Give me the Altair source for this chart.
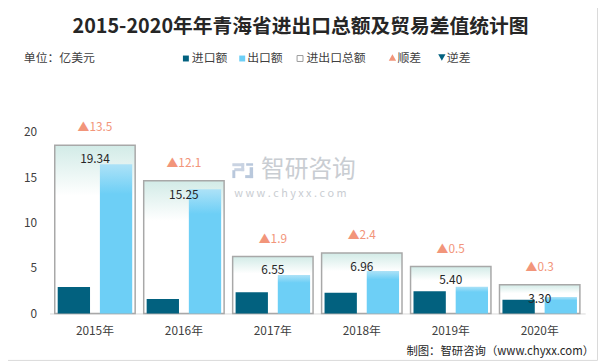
import altair as alt
import pandas as pd

# ---------------- data ----------------
years = ["2015年", "2016年", "2017年", "2018年", "2019年", "2020年"]
imports = [2.92, 1.58, 2.33, 2.28, 2.45, 1.50]
exports = [16.42, 13.67, 4.22, 4.68, 2.95, 1.80]
totals = [19.34, 15.25, 6.55, 6.96, 5.40, 3.30]
diffs = [13.5, 12.1, 1.9, 2.4, 0.5, 0.3]
y_ticks = [0, 5, 10, 15, 20]

title_text = "2015-2020年年青海省进出口总额及贸易差值统计图"
unit_text = "单位：亿美元"
legend_names = ["进口额", "出口额", "进出口总额", "顺差", "逆差"]
footer_text = "制图：智研咨询（www.chyxx.com）"

FONT = "Noto Sans CJK SC"
C_IMP = "#02617f"
C_EXP = "#6dcff6"
C_UP = "#f2957a"

tot_df = pd.DataFrame({"year": years, "total": totals,
                       "diff": ["▲" + f"{d:.1f}" for d in diffs],
                       "tlabel": [f"{t:.2f}" for t in totals]})
imp_df = pd.DataFrame({"year": years, "series": "进口额", "value": imports})
exp_df = pd.DataFrame({"year": years, "series": "出口额", "value": exports})

xscale = alt.Scale(domain=years, paddingInner=0.096, paddingOuter=0.059)
yscale = alt.Scale(domain=[0, 20], nice=False)
y2scale = alt.Scale(domain=[0, 20.9], nice=False)   # secondary axis of the total boxes
xaxis = alt.Axis(title=None, labelAngle=0, ticks=False, domainColor="#d9d9d9",
                 domainWidth=1, labelPadding=12, labelFontSize=12,
                 labelColor="#404040", labelFont=FONT)
yaxis = alt.Axis(title=None, values=y_ticks, grid=False, domain=False, ticks=False,
                 labelPadding=13, labelFontSize=12, labelColor="#404040",
                 labelFont=FONT)
X = alt.X("year:N", scale=xscale, sort=years, axis=xaxis)
Y = alt.Y("value:Q", scale=yscale, axis=yaxis)
Yn = alt.Y("value:Q", scale=yscale, axis=None)
Yt = alt.Y("total:Q", scale=y2scale, axis=None)
XO = alt.XOffset("series:N", sort=["进口额", "出口额"],
                 scale=alt.Scale(domain=["进口额", "出口额"], paddingInner=0.234, paddingOuter=0.07))

box_grad = alt.LinearGradient(gradient="linear", x1=0, x2=0, y1=0, y2=1,
                              stops=[alt.GradientStop(offset=0, color="#d2ebe7"),
                                     alt.GradientStop(offset=0.3, color="#ffffff"),
                                     alt.GradientStop(offset=1, color="#ffffff")])
exp_grad = alt.LinearGradient(gradient="linear", x1=0, x2=0, y1=0, y2=1,
                              stops=[alt.GradientStop(offset=0, color="#ade2f7"),
                                     alt.GradientStop(offset=0.2, color=C_EXP),
                                     alt.GradientStop(offset=1, color=C_EXP)])

box = alt.Chart(tot_df).mark_bar(fill=box_grad, stroke="#a8a8a8", strokeWidth=1.5).encode(
    x=X, y=Yt)
imp = alt.Chart(imp_df).mark_bar(fill=C_IMP).encode(x=X, y=Y, xOffset=XO)
exp = alt.Chart(exp_df).mark_bar(fill=exp_grad).encode(x=X, y=Yn, xOffset=XO)
tlab = alt.Chart(tot_df).mark_text(dy=14, baseline="middle", fontSize=12, color="#262626",
                                   font=FONT).encode(x=X, y=Yt, text="tlabel:N")
dlab = alt.Chart(tot_df).mark_text(dy=-18, baseline="middle", fontSize=12, color=C_UP,
                                   font=FONT).encode(x=X, y=Yt, text="diff:N")


def label(text, x, y, size=12, color="#404040", align="left", weight="normal"):
    return alt.Chart(pd.DataFrame({"t": [text]})).mark_text(
        align=align, baseline="middle", fontSize=size, color=color, font=FONT,
        fontWeight=weight).encode(x=alt.value(x), y=alt.value(y), text="t:N")


def marker(shape, x, y, size, fill, stroke=None, filled=True):
    kw = dict(shape=shape, size=size, filled=filled, opacity=1)
    if filled:
        kw["color"] = fill
        kw["strokeWidth"] = 0
    else:
        kw["fill"] = fill
        kw["stroke"] = stroke
        kw["strokeWidth"] = 1
    return alt.Chart(pd.DataFrame({"t": [0]})).mark_point(**kw).encode(
        x=alt.value(x), y=alt.value(y))


def block(x1, y1, x2, y2, color):
    # page coordinates -> plot coordinates (plot origin at page 50,131)
    return alt.Chart(pd.DataFrame({"t": [0]})).mark_rect(color=color).encode(
        x=alt.value(x1 - 50), x2=alt.value(x2 - 50), y=alt.value(y1 - 131), y2=alt.value(y2 - 131))


LY = -74
deco = [
    label(title_text, 254, -106, size=20, color="#262626", align="center", weight="bold"),
    label(unit_text, -26, LY),
    marker("square", 138, LY, 36, C_IMP), label(legend_names[0], 144, LY),
    marker("square", 195, LY, 36, C_EXP), label(legend_names[1], 200, LY),
    marker("square", 253.5, LY, 36, "#ffffff", "#9a9a9a", filled=False), label(legend_names[2], 260, LY),
    marker("triangle-up", 347, LY - 1, 55, C_UP), label(legend_names[3], 352, LY),
    marker("triangle-down", 397, LY - 1, 55, C_IMP), label(legend_names[4], 402, LY),
    # watermark logo
    block(235, 163, 247, 166, "#c9d3e2"),
    block(244, 163, 247, 171, "#c9d3e2"),
    block(237, 168, 247, 171, "#c9d3e2"),
    block(235, 170, 238, 178, "#b9c8dc"),
    block(249, 163, 256, 165.5, "#b9c8dc"),
    block(252.5, 167, 256, 178, "#b9c8dc"),
    block(248, 175, 256, 178, "#b9c8dc"),
    label("智研咨询", 214, 38.5, size=24, color="#c9cdd2"),
    label("w w w . c h y x x . c o m", 187, 63, size=11, color="#c9cdd2"),
    label(footer_text, 551, 223, size=11.5, color="#262626", align="right"),
]

border = alt.Chart(pd.DataFrame({"t": [0]})).mark_rect(
    fill="transparent", stroke="#d9d9d9", strokeWidth=1).encode(
    x=alt.value(-50), x2=alt.value(554.5), y=alt.value(-131), y2=alt.value(231.5))

chart = alt.layer(border, box, imp, exp, tlab, dlab, *deco).resolve_scale(
    y="independent"
).properties(
    width=542, height=184,
    autosize=alt.AutoSizeParams(type="none"),
    padding={"left": 42, "top": 123, "right": 13, "bottom": 48},
    background="#ffffff",
).configure_view(stroke=None)

chart.save("out.html", embed_options={"renderer": "svg", "actions": False})
